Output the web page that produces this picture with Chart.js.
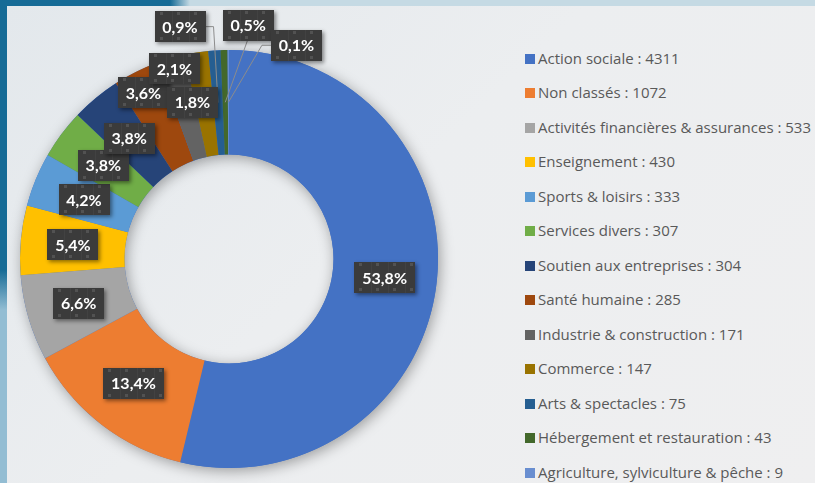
<!DOCTYPE html>
<html>
<head>
<meta charset="utf-8">
<script src="https://cdn.jsdelivr.net/npm/chart.js@4"></script>
<style>
  html, body { margin: 0; padding: 0; }
  body {
    width: 815px; height: 483px; position: relative; overflow: hidden;
    background: linear-gradient(180deg, #166b96 0px, #166b96 270px, #93bdd3 310px, #93bdd3 483px);
    font-family: "Open Sans", Lato, sans-serif;
  }
  #topstrip {
    position: absolute; left: 0; top: 0; width: 815px; height: 6px;
    background: linear-gradient(90deg, #166b96 0px, #166b96 170px, #c5dae4 190px, #c5dae4 815px);
  }
  #panel {
    position: absolute; left: 7px; top: 6px; width: 808px; height: 477px;
    background: linear-gradient(135deg, #e3e8ec 0%, #eceef0 45%, #efeff0 100%);
  }
  #chart { position: absolute; left: 0; top: 0; }
  #legend { position: absolute; left: 525px; top: 0; margin: 0; padding: 0; list-style: none; }
  #legend li {
    position: absolute; left: 0; white-space: nowrap; height: 20px; line-height: 20px;
    font-size: 15px; color: #595959;
  }
  #legend li span {
    display: inline-block; width: 10px; height: 10px; margin-right: 3px; vertical-align: 0px;
  }
</style>
</head>
<body>
<div id="topstrip"></div>
<div id="panel"></div>
<canvas id="chart" width="458" height="483"></canvas>
<ul id="legend"></ul>
<script>
// Data
const categories = [
  'Action sociale', 'Non classés', 'Activités financières & assurances', 'Enseignement',
  'Sports & loisirs', 'Services divers', 'Soutien aux entreprises', 'Santé humaine',
  'Industrie & construction', 'Commerce', 'Arts & spectacles', 'Hébergement et restauration',
  'Agriculture, sylviculture & pêche'
];
const counts = [4311, 1072, 533, 430, 333, 307, 304, 285, 171, 147, 75, 43, 9];
const colors = [
  '#4472c4', '#ed7d31', '#a5a5a5', '#ffc000', '#5b9bd5', '#70ad47', '#264478',
  '#9e480e', '#636363', '#997300', '#255e91', '#43682b', '#698ed0'
];

// Label moves away from the ring middle (Excel pushed the crowded ones out)
const labelShift = [
  [0, 0], [0, 0], [0, 0], [0, 0], [0, 0], [0, 0], [0, 0],
  [-16, -26], [-11, -40], [-12, -2], [-38, -76], [23, -77], [68, -57]
];
const withLeader = [false, false, false, false, false, false, false, false, false, false, true, true, true];

const total = counts.reduce((a, b) => a + b, 0);
const pct = v => (Math.round(v / total * 1000) / 10).toFixed(1).replace('.', ',') + '%';
const LABEL_FONT = 'bold 16px Lato';

// Legend
const legend = document.getElementById('legend');
categories.forEach((c, i) => {
  const li = document.createElement('li');
  li.style.top = (57.5 + i * 34.5 - 10) + 'px';
  li.innerHTML = '<span style="background:' + colors[i] + '"></span>' + c + ' : ' + counts[i];
  legend.appendChild(li);
});

// soft shadow under the whole ring
const ringShadow = {
  id: 'ringShadow',
  beforeDatasetsDraw(chart) {
    const arc = chart.getDatasetMeta(0).data[0];
    if (!arc) return;
    const ctx = chart.ctx;
    ctx.save();
    ctx.shadowColor = 'rgba(0,0,0,0.35)';
    ctx.shadowBlur = 14;
    ctx.shadowOffsetX = 2;
    ctx.shadowOffsetY = 3;
    ctx.fillStyle = '#4472c4';
    ctx.beginPath();
    ctx.arc(arc.x, arc.y, arc.outerRadius, 0, Math.PI * 2);
    ctx.arc(arc.x, arc.y, arc.innerRadius, 0, Math.PI * 2, true);
    ctx.fill();
    ctx.restore();
  }
};

function boxWidth(ctx, text) {
  ctx.font = LABEL_FONT;
  return Math.round(ctx.measureText(text).width + 16);
}

function drawBox(ctx, cx, cy, text) {
  const w = boxWidth(ctx, text);
  const h = 31;
  const x = Math.round(cx - w / 2), y = Math.round(cy - h / 2);
  ctx.save();
  ctx.shadowColor = 'rgba(0,0,0,0.45)';
  ctx.shadowBlur = 4;
  ctx.shadowOffsetX = 2;
  ctx.shadowOffsetY = 2;
  ctx.fillStyle = '#3b3b3b';
  ctx.fillRect(x, y, w, h);
  ctx.restore();
  // pattern fill dots
  ctx.fillStyle = '#525252';
  for (let px = x + 5; px < x + w - 2; px += 17) {
    ctx.fillRect(px, y + 1, 3, 3);
    ctx.fillRect(px, y + h - 5, 3, 3);
  }
  ctx.fillStyle = '#424242';
  for (let px = x + 17; px < x + w - 2; px += 17) {
    ctx.fillRect(px, y, 1, h);
  }
  ctx.font = LABEL_FONT;
  ctx.fillStyle = '#ffffff';
  ctx.textAlign = 'center';
  ctx.textBaseline = 'middle';
  ctx.fillText(text, cx, cy + 1);
}

const boxLabels = {
  id: 'boxLabels',
  afterDatasetsDraw(chart) {
    const ctx = chart.ctx;
    const meta = chart.getDatasetMeta(0);
    const spots = meta.data.map((arc, i) => {
      const mid = (arc.startAngle + arc.endAngle) / 2;
      const r = (arc.innerRadius + arc.outerRadius) / 2;
      const ax = arc.x + Math.cos(mid) * r;
      const ay = arc.y + Math.sin(mid) * r;
      return { ax, ay, cx: ax + labelShift[i][0], cy: ay + labelShift[i][1] };
    });
    spots.forEach((s, i) => {
      if (!withLeader[i]) return;
      const hw = boxWidth(ctx, pct(counts[i])) / 2;
      ctx.save();
      ctx.strokeStyle = '#8c8c8c';
      ctx.lineWidth = 1;
      ctx.beginPath();
      if (s.ax > s.cx + hw) {
        ctx.moveTo(s.cx + hw, s.cy); ctx.lineTo(s.cx + hw + 8, s.cy);
      } else if (s.ax < s.cx - hw - 10) {
        ctx.moveTo(s.cx - hw, s.cy); ctx.lineTo(s.cx - hw - 9, s.cy);
      } else {
        ctx.moveTo(s.cx, s.cy + 13);
      }
      ctx.lineTo(s.ax, s.ay);
      ctx.stroke();
      ctx.restore();
    });
    spots.forEach((s, i) => drawBox(ctx, s.cx, s.cy, pct(counts[i])));
  }
};

new Chart(document.getElementById('chart'), {
  type: 'doughnut',
  data: {
    labels: categories,
    datasets: [{
      data: counts,
      backgroundColor: colors,
      borderWidth: 0,
      hoverOffset: 0
    }]
  },
  options: {
    responsive: false,
    animation: false,
    cutout: '50%',
    layout: { padding: { left: 20, right: 20, top: 50, bottom: 15 } },
    plugins: {
      legend: { display: false },
      tooltip: { enabled: false }
    }
  },
  plugins: [ringShadow, boxLabels]
});
</script>
</body>
</html>
